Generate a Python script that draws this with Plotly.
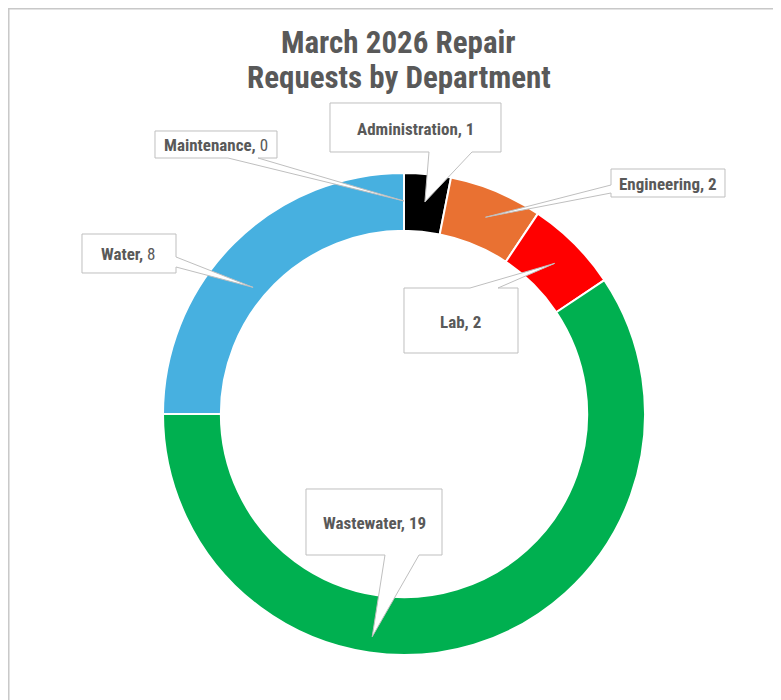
import math
import plotly.graph_objects as go

# ---- data ----
departments = ["Administration", "Engineering", "Lab", "Wastewater", "Water", "Maintenance"]
requests = [1, 2, 2, 19, 8, 0]
colors = ["#000000", "#E97132", "#FF0000", "#00B050", "#47B0E0", "#7F7F7F"]
title_lines = ["March 2026 Repair", "Requests by Department"]
bold_value = [True, True, True, True, False, False]

# ---- layout (screen pixels; page body has an 8px margin) ----
W, H = 781, 700
OFF = 8
CX, CY, R_OUT = 404, 414, 241
HOLE = 0.76
FONT = "Liberation Sans Narrow, Roboto Condensed, Roboto, sans-serif"

def px(x):
    return (x - OFF) / W

def py(y):
    return 1 - (y - OFF) / H

# callout style: box (x0, y0, x1, y1), pointer side, base (a, b), tip radius, angle offset (deg)
callouts = {
    "Administration": dict(box=(330, 103, 501, 152), side="bottom", base=(429, 472), r=213, off=0.0),
    "Engineering": dict(box=(611, 169, 725, 197), side="left", base=(185, 193), r=213, off=0.0),
    "Lab": dict(box=(404, 288, 518, 353), side="top", base=(470, 498), r=213, off=0.0),
    "Wastewater": dict(box=(306, 489, 442, 555), side="bottom", base=(385, 419), r=225, off=25.0),
    "Water": dict(box=(82, 234, 176, 273), side="right", base=(257, 267), r=197, off=-5.0),
    "Maintenance": dict(box=(155, 131, 277, 158), side="bottom", base=(228, 258), r=213, off=0.0),
}

total = sum(requests)
fig = go.Figure()
fig.add_trace(go.Pie(
    labels=departments,
    values=requests,
    marker=dict(colors=colors, line=dict(color="white", width=2)),
    hole=HOLE,
    sort=False,
    direction="clockwise",
    rotation=0,
    textinfo="none",
    hoverinfo="label+value",
    showlegend=False,
    domain=dict(x=[px(CX - R_OUT), px(CX + R_OUT)], y=[py(CY + R_OUT), py(CY - R_OUT)]),
))

shapes = []
annotations = []

# frame
shapes.append(dict(type="rect", xref="paper", yref="paper",
                   x0=0.001, y0=-0.05, x1=1.05, y1=0.999,
                   line=dict(color="#C8C8C8", width=1.5), fillcolor="rgba(0,0,0,0)", layer="below"))

def pt(x, y):
    return f"{px(x):.5f},{py(y):.5f}"

cum = 0.0
for name, val, bv in zip(departments, requests, bold_value):
    mid = (cum + val / 2) / total * 360
    cum += val
    c = callouts[name]
    ang = math.radians(mid + c["off"])
    tx = CX + c["r"] * math.sin(ang)
    ty = CY - c["r"] * math.cos(ang)
    x0, y0, x1, y1 = c["box"]
    a, b = c["base"]
    pts = [(x0, y0)]
    if c["side"] == "top":
        pts += [(a, y0), (tx, ty), (b, y0)]
    pts.append((x1, y0))
    if c["side"] == "right":
        pts += [(x1, a), (tx, ty), (x1, b)]
    pts.append((x1, y1))
    if c["side"] == "bottom":
        pts += [(b, y1), (tx, ty), (a, y1)]
    pts.append((x0, y1))
    if c["side"] == "left":
        pts += [(x0, b), (tx, ty), (x0, a)]
    path = "M " + " L ".join(pt(x, y) for x, y in pts) + " Z"
    shapes.append(dict(type="path", xref="paper", yref="paper", path=path,
                       line=dict(color="#BFBFBF", width=1), fillcolor="white", layer="above"))
    txt = f"<b>{name}, {val}</b>" if bv else f"<b>{name},</b> {val}"
    annotations.append(dict(x=px((x0 + x1) / 2), y=py((y0 + y1) / 2 + 1), xref="paper", yref="paper",
                            text=txt, showarrow=False, xanchor="center", yanchor="middle",
                            font=dict(family=FONT, size=17, color="#595959")))

for line, yc in zip(title_lines, [42, 78]):
    annotations.append(dict(x=px(399), y=py(yc), xref="paper", yref="paper", text=f"<b>{line}</b>",
                            showarrow=False, xanchor="center", yanchor="middle",
                            font=dict(family=FONT, size=31, color="#595959")))

fig.update_layout(
    width=W, height=H,
    margin=dict(l=0, r=0, t=0, b=0),
    paper_bgcolor="white", plot_bgcolor="white",
    shapes=shapes, annotations=annotations,
)

fig.write_html("out.html")
